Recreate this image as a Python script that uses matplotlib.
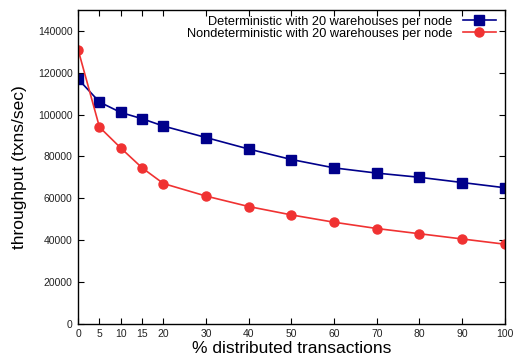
import matplotlib
matplotlib.use("Agg")
import matplotlib.pyplot as plt

plt.rcParams['font.family'] = ['Liberation Sans', 'DejaVu Sans']

# percent of distributed transactions
pct = [0, 5, 10, 15, 20, 30, 40, 50, 60, 70, 80, 90, 100]
# throughput, txns/sec
deterministic = [117000, 106000, 101000, 98000, 94500, 89000, 83500,
                 78500, 74500, 72000, 70000, 67500, 65000]
nondeterministic = [131000, 94000, 84000, 74500, 67000, 61000, 56000,
                    52000, 48500, 45500, 43000, 40500, 38000]
xticks = [0, 5, 10, 15, 20, 30, 40, 50, 60, 70, 80, 90, 100]
yticks = [0, 20000, 40000, 60000, 80000, 100000, 120000, 140000]

fig = plt.figure(figsize=(5.14, 3.58), dpi=100)
ax = fig.add_axes([0.152, 0.096, 0.830, 0.876])

ax.plot(pct, deterministic, color='#00008b', marker='s', markersize=6.5,
        linewidth=1.2, label='Deterministic with 20 warehouses per node')
ax.plot(pct, nondeterministic, color='#f03232', marker='o', markersize=6.5,
        linewidth=1.2, label='Nondeterministic with 20 warehouses per node')

ax.set_xlim(0, 100)
ax.set_ylim(0, 150000)
ax.set_xticks(xticks)
ax.set_yticks(yticks)
ax.tick_params(direction='in', top=True, right=True, labelsize=7.5,
               length=4, width=0.8, pad=4, labelcolor='#222222')

for s in ax.spines.values():
    s.set_linewidth(1.0)

ax.set_xlabel('% distributed transactions', fontsize=12.5, labelpad=1)
ax.set_ylabel('throughput (txns/sec)', fontsize=12.5, labelpad=8)

leg = ax.legend(loc='upper right', frameon=False, markerfirst=False,
                fontsize=9.2, handlelength=2.6, labelspacing=0.0,
                borderaxespad=0.0, borderpad=0.2, handletextpad=0.8,
                bbox_to_anchor=(0.985, 0.99))
for t in leg.get_texts():
    t.set_ha('right')

fig.savefig('out.png', dpi=100)
